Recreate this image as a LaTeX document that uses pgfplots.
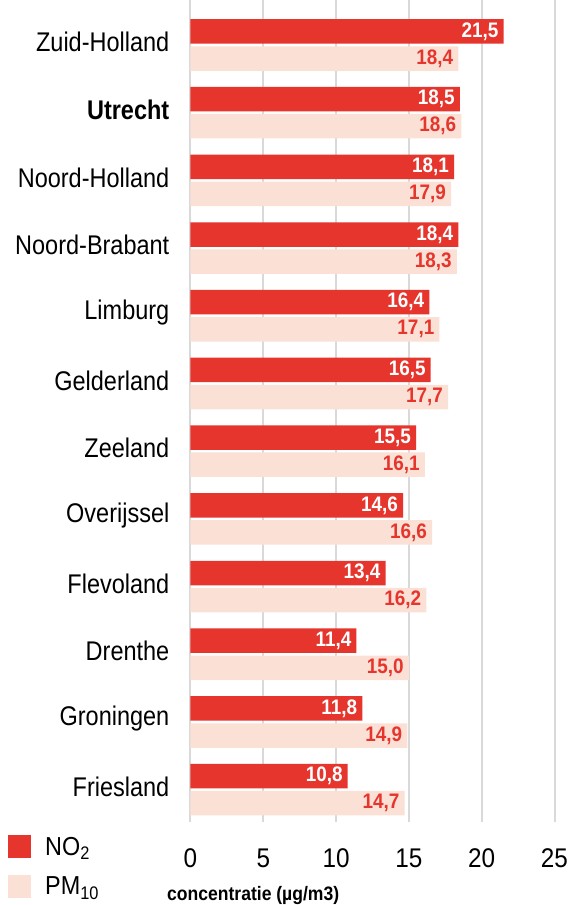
\documentclass[border=0pt]{standalone}
\usepackage{pgfplots}
\pgfplotsset{compat=1.18}
\usepackage{fontspec}
\setmainfont[FakeStretch=0.9]{Liberation Sans}
\newfontfamily\catfont[FakeStretch=0.87]{Liberation Sans}
\definecolor{no2}{HTML}{E5352D}
\definecolor{pm10}{HTML}{FBE0D6}
\definecolor{gridgray}{HTML}{D9D9D9}
\begin{document}
\begin{tikzpicture}
\useasboundingbox (-190.5pt,-83pt) rectangle (378.5pt,822pt);
\begin{axis}[
  name=ax, at={(0pt,0pt)}, anchor=south west,
  scale only axis, width=364pt, height=822pt,
  xbar, bar width=24.5pt,
  xmin=0, xmax=25, ymin=-0.477, ymax=11.665,
  xtick={0,5,10,15,20,25}, ytick={0,1,2,3,4,5,6,7,8,9,10,11},
  yticklabels={Friesland,Groningen,Drenthe,Flevoland,Overijssel,Zeeland,Gelderland,Limburg,Noord-Brabant,Noord-Holland,\textbf{Utrecht},Zuid-Holland},
  axis line style={draw=none}, major tick length=0pt,
  xmajorgrids, major grid style={draw=gridgray, line width=2pt},
  /pgf/number format/assume math mode=true,
  x tick label style={font=\fontsize{27}{32}\selectfont, anchor=center, yshift=-36pt, inner sep=0pt},
  y tick label style={font=\catfont\fontsize{27}{32}\selectfont, anchor=east, xshift=-21pt, yshift=3pt, inner sep=0pt},
  xlabel={\textbf{concentratie (µg/m3)}},
  every axis x label/.style={at={(rel axis cs:-0.0646,0)}, anchor=west, yshift=-73pt, font=\fontsize{19.5}{23}\selectfont, inner sep=0pt},
  clip=false,
  point meta=x,
  nodes near coords={\pgfmathprintnumber[fixed,fixed zerofill,precision=1,use comma]{\pgfplotspointmeta}},
  every node near coord/.append style={anchor=east, xshift=-5pt, inner sep=0pt, font=\fontsize{21}{25}\selectfont\bfseries},
  legend style={at={(rel axis cs:-0.5014,-0.0158)}, anchor=north west, draw=none, fill=none,
    font=\fontsize{26}{31}\selectfont, inner sep=0pt, row sep=17pt, column sep=14pt, legend cell align=left,
    nodes={inner sep=0pt}},
  legend image code/.code={\fill[#1,draw=none] (0pt,-11.5pt) rectangle (23pt,11.5pt);},
]
\addplot[fill=no2, draw=none, bar shift=13.6pt, every node near coord/.append style={text=white}] coordinates {
  (10.8,0) (11.8,1) (11.4,2) (13.4,3) (14.6,4) (15.5,5) (16.5,6) (16.4,7) (18.4,8) (18.1,9) (18.5,10) (21.5,11)
};
\addplot[fill=pm10, draw=none, bar shift=-13.5pt, every node near coord/.append style={text=no2}] coordinates {
  (14.7,0) (14.9,1) (15.0,2) (16.2,3) (16.6,4) (16.1,5) (17.7,6) (17.1,7) (18.3,8) (17.9,9) (18.6,10) (18.4,11)
};
\legend{NO\textsubscript{2}, PM\textsubscript{10}}
\end{axis}
\end{tikzpicture}
\end{document}
